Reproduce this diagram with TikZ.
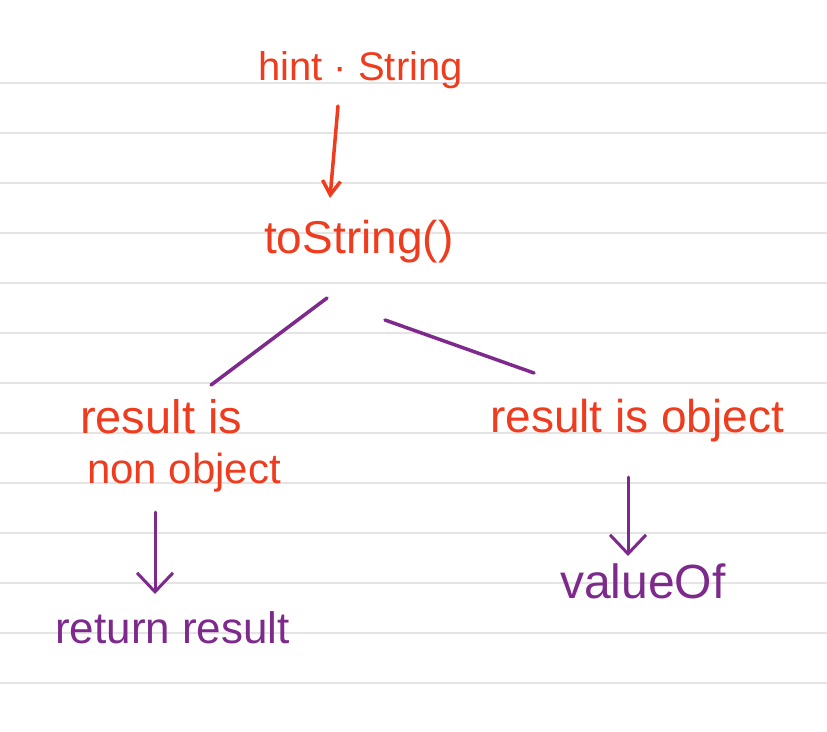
\documentclass[tikz,border=0pt]{standalone}
\usepackage{fontspec}
\setmainfont{Liberation Sans}
\usetikzlibrary{arrows.meta}
\definecolor{ink}{HTML}{F03C1E}
\definecolor{pen}{HTML}{7D2A8C}
\definecolor{rule}{HTML}{E4E4E4}
\tikzset{
  hand/.style={inner sep=0pt, text=ink},
  handp/.style={inner sep=0pt, text=pen},
  link/.style={draw=pen, line width=3.5pt, line cap=round},
  arrowr/.style={draw=ink, line width=3.5pt, line cap=round, -{Straight Barb[length=14pt,width=18pt,line width=3.5pt]}},
  arrowp/.style={draw=pen, line width=3pt, line cap=round, -{Straight Barb[length=19pt,width=36pt,line width=3pt]}},
}
\begin{document}
\begin{tikzpicture}[x=1pt,y=-1pt]
\useasboundingbox (0,0) rectangle (827,731);
\fill[white] (0,0) rectangle (827,731);
\foreach \k in {0,...,12} {
  \draw[rule, line width=1.8pt] (0,{83+50*\k}) -- (827,{83+50*\k});
}
\node[hand, anchor=base west, font=\fontsize{40}{48}\selectfont] (hint) at (258,80) {hint · String};
\node[hand, anchor=base west, font=\fontsize{46}{54}\selectfont] (tostr) at (264,253) {toString()};
\node[hand, anchor=base west, font=\fontsize{47}{54}\selectfont] (res1) at (80,433) {result is};
\node[hand, anchor=base west, font=\fontsize{42}{50}\selectfont] (res2) at (87,483) {non object};
\node[hand, anchor=base west, font=\fontsize{46}{54}\selectfont] (res3) at (490,432) {result is object};
\node[handp, anchor=base west, font=\fontsize{44}{52}\selectfont] (ret) at (55,643) {return result};
\node[handp, anchor=base west, font=\fontsize{48}{56}\selectfont] (val) at (560,598) {valueOf};

\coordinate (a1s) at (338,106);
\coordinate (a1e) at (330,198);
\coordinate (l1s) at (327,298);
\coordinate (l1e) at (211,385);
\coordinate (l2s) at (385,320);
\coordinate (l2e) at (534,373);
\coordinate (a2s) at (155,512);
\coordinate (a2e) at (155,594);
\coordinate (a3s) at (628,477);
\coordinate (a3e) at (628,556);

\draw[arrowr] (a1s) -- (a1e);
\draw[link] (l1s) -- (l1e);
\draw[link] (l2s) -- (l2e);
\draw[arrowp] (a2s) -- (a2e);
\draw[arrowp] (a3s) -- (a3e);
\end{tikzpicture}
\end{document}
